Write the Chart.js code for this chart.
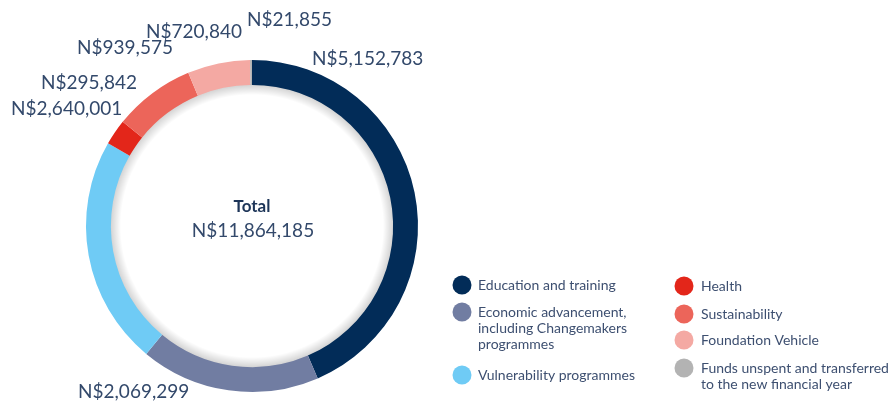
<!DOCTYPE html>
<html>
<head>
<meta charset="utf-8">
<script src="https://cdn.jsdelivr.net/npm/chart.js@4.4.1/dist/chart.umd.min.js"></script>
<style>
  html, body { margin: 0; padding: 0; background: #fff; }
  #wrap { position: relative; width: 892px; height: 401px; }
</style>
</head>
<body>
<div id="wrap"><canvas id="spendChart" width="892" height="401"></canvas></div>
<script>
// spend per focus area (N$)
const categories = [
  ['Education and training'],
  ['Economic advancement,', 'including Changemakers', 'programmes'],
  ['Vulnerability programmes'],
  ['Health'],
  ['Sustainability'],
  ['Foundation Vehicle'],
  ['Funds unspent and transferred', 'to the new financial year']
];
const amounts = [5152783, 2069299, 2640001, 295842, 939575, 720840, 21855];
const sliceColours = ['#022c58', '#717da2', '#6fcbf5', '#e3261a', '#ec655a', '#f4a9a3', '#b3b3b3'];
const totalText = 'N$11,864,185';

// where each amount label sits (left edge, middle)
const amountLabelPos = [[312, 59], [78, 392], [11, 109], [41, 83], [77, 48], [146, 32], [247, 20]];
// legend: [dot x, text x, first line y] per category
const legendPos = [
  [462, 478, 285], [462, 478, 312], [462, 478, 375],
  [684, 701, 286], [684, 701, 314], [684, 701, 340], [684, 701, 368]
];

const money = v => 'N$' + v.toLocaleString('en-US');

const overlay = {
  id: 'overlay',
  beforeDatasetsDraw(chart) {
    // soft shadow just inside the ring
    const arc = chart.getDatasetMeta(0).data[0];
    const { x, y, innerRadius } = arc;
    const ctx = chart.ctx;
    const g = ctx.createRadialGradient(x, y, innerRadius - 10, x, y, innerRadius);
    g.addColorStop(0, 'rgba(0,0,0,0)');
    g.addColorStop(1, 'rgba(0,0,0,0.17)');
    ctx.save();
    ctx.beginPath();
    ctx.arc(x, y, innerRadius + 1, 0, Math.PI * 2);
    ctx.arc(x, y, innerRadius - 10, 0, Math.PI * 2, true);
    ctx.fillStyle = g;
    ctx.fill();
    ctx.restore();
  },
  afterDraw(chart) {
    const ctx = chart.ctx;
    const arc = chart.getDatasetMeta(0).data[0];
    ctx.save();
    ctx.textBaseline = 'middle';

    // amounts around the ring
    ctx.font = '19px Lato';
    ctx.fillStyle = '#33496b';
    ctx.textAlign = 'left';
    amounts.forEach((v, i) => {
      const [lx, ly] = amountLabelPos[i];
      ctx.fillText(money(v), lx, ly);
    });

    // total in the middle
    ctx.textAlign = 'center';
    ctx.fillStyle = '#1d3558';
    ctx.font = 'bold 17px Lato';
    ctx.fillText('Total', arc.x, 207);
    ctx.fillStyle = '#33496b';
    ctx.font = '19px Lato';
    ctx.fillText(totalText, arc.x + 1, 231);

    // legend
    ctx.textAlign = 'left';
    ctx.font = '14px Lato';
    categories.forEach((lines, i) => {
      const [dx, tx, ty] = legendPos[i];
      ctx.beginPath();
      ctx.arc(dx, ty, 9.5, 0, Math.PI * 2);
      ctx.fillStyle = sliceColours[i];
      ctx.fill();
      ctx.fillStyle = '#3d4f70';
      lines.forEach((t, j) => ctx.fillText(t, tx, ty + j * 16.3));
    });
    ctx.restore();
  }
};

new Chart(document.getElementById('spendChart'), {
  type: 'doughnut',
  data: {
    labels: categories.map(c => c.join(' ')),
    datasets: [{
      data: amounts,
      backgroundColor: sliceColours,
      borderWidth: 0
    }]
  },
  options: {
    responsive: false,
    animation: false,
    cutout: '85%',
    layout: { padding: { left: 86, top: 60, right: 474, bottom: 9 } },
    plugins: {
      legend: { display: false },
      tooltip: { enabled: false }
    }
  },
  plugins: [overlay]
});
</script>
</body>
</html>
